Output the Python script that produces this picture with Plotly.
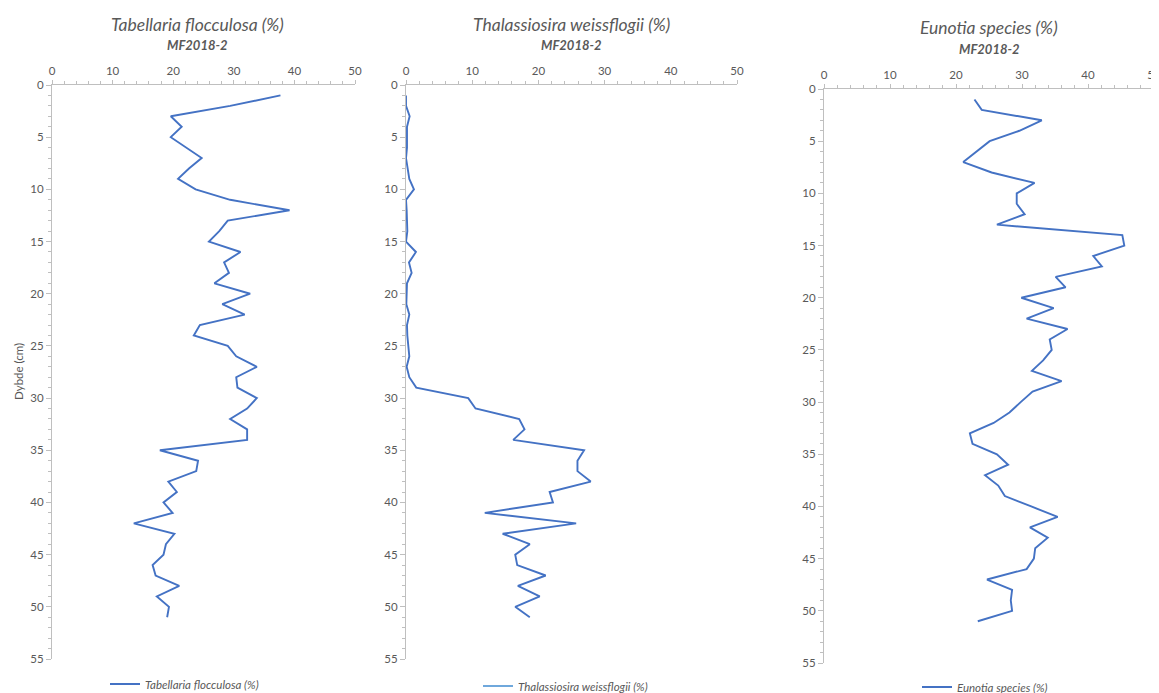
import plotly.graph_objects as go

depth = list(range(1, 52))

tabellaria = [37.7, 29.4, 19.6, 21.4, 19.6, 22.1, 24.7, 22.6, 20.8, 23.7,
              29.4, 39.2, 29.0, 27.6, 25.9, 31.1, 28.4, 29.2, 26.8, 32.7,
              28.1, 31.8, 24.4, 23.4, 29.0, 30.4, 33.8, 30.4, 30.6, 33.8,
              32.2, 29.4, 32.2, 32.2, 17.8, 24.1, 23.8, 19.2, 20.6, 18.4,
              19.9, 13.5, 20.2, 18.8, 18.4, 16.6, 17.1, 21.0, 17.3, 19.3,
              19.0]

thalassiosira = [0.0, 0.0, 0.55, 0.15, 0.15, 0.15, 0.0, 0.2, 0.5, 1.2,
                 0.0, 0.1, 0.1, 0.2, 0.0, 1.5, 0.45, 0.85, 0.15, 0.15,
                 0.05, 0.5, 0.15, 0.2, 0.35, 0.5, 0.1, 0.5, 1.55, 9.4,
                 10.5, 17.1, 17.9, 16.2, 26.9, 25.9, 25.9, 27.9, 21.7, 22.2,
                 11.9, 25.7, 14.6, 18.7, 16.5, 16.8, 21.1, 16.9, 20.2, 16.5,
                 18.7]

eunotia = [22.8, 23.9, 33.0, 29.6, 25.1, 23.1, 21.1, 25.4, 31.9, 29.2,
           29.2, 30.4, 26.2, 45.2, 45.5, 40.8, 42.1, 35.1, 36.6, 29.9,
           34.8, 30.7, 36.9, 34.2, 34.5, 33.2, 31.5, 36.0, 31.6, 29.8,
           28.1, 25.7, 22.1, 22.5, 26.2, 27.9, 24.4, 26.4, 27.4, 31.4,
           35.4, 31.2, 33.9, 32.0, 31.8, 30.7, 24.7, 28.5, 28.3, 28.5,
           23.3]

titles = ["Tabellaria flocculosa (%)", "Thalassiosira weissflogii (%)", "Eunotia species (%)"]
subtitle = "MF2018-2"
y_title = "Dybde (cm)"

# the page body has an 8px margin, so the figure is drawn at (8, 8)
OFF = 8
W, H = 1159 - OFF, 693 - OFF
LINE = "#4472C4"
LEGEND2_LINE = "#6FA8DC"
GRAY_TXT = "#595959"
AXIS_GRAY = "#BFBFBF"
FONT = "Lato"


def px(x):
    return (x - OFF) / W


def py(y):
    return 1 - (y - OFF) / H


# panel geometry in page pixels: (x0, x1, y_top, y_bottom)
panels = [(52, 355, 85, 659), (406, 737, 85, 659), (824, 1154, 89, 663)]

fig = go.Figure()

series = [tabellaria, thalassiosira, eunotia]
for i, (vals, name) in enumerate(zip(series, titles)):
    sfx = "" if i == 0 else str(i + 1)
    leg = "legend" if i == 0 else f"legend{i+1}"
    fig.add_trace(go.Scatter(
        x=vals, y=depth, mode="lines", name=name,
        line=dict(color=LINE, width=1.9),
        xaxis="x" + sfx, yaxis="y" + sfx, legend=leg,
        showlegend=(i != 1),
    ))
    if i == 1:
        fig.add_trace(go.Scatter(
            x=[None], y=[None], mode="lines", name=name,
            line=dict(color=LEGEND2_LINE, width=1.9),
            xaxis="x" + sfx, yaxis="y" + sfx, legend=leg, showlegend=True,
            hoverinfo="skip",
        ))

layout = dict(
    width=W, height=H, autosize=False,
    margin=dict(l=0, r=0, t=0, b=0, autoexpand=False),
    paper_bgcolor="white", plot_bgcolor="white",
    font=dict(family=FONT, color=GRAY_TXT, size=11),
)

annotations = []
for i, (x0, x1, yt, yb) in enumerate(panels):
    sfx = "" if i == 0 else str(i + 1)
    layout["xaxis" + sfx] = dict(
        domain=[px(x0), px(x1)], anchor="y" + sfx, side="top", range=[0, 50],
        tickmode="linear", tick0=0, dtick=10, automargin=False,
        ticklabeloverflow="allow",
        showgrid=False, zeroline=False,
        showline=True, linecolor=AXIS_GRAY, linewidth=1,
        ticks="outside", ticklen=4, tickcolor=AXIS_GRAY,
        minor=dict(dtick=2, ticks="outside", ticklen=3, tickcolor=AXIS_GRAY, showgrid=False),
        tickfont=dict(family=FONT, size=11.5, color=GRAY_TXT),
        fixedrange=True,
    )
    layout["yaxis" + sfx] = dict(
        domain=[py(yb), py(yt)], anchor="x" + sfx, range=[55, 0],
        tickmode="linear", tick0=0, dtick=5, automargin=False,
        showgrid=False, zeroline=False,
        showline=True, linecolor=AXIS_GRAY, linewidth=1,
        ticks="outside", ticklen=5, tickcolor=AXIS_GRAY,
        minor=dict(dtick=1, ticks="outside", ticklen=3, tickcolor=AXIS_GRAY, showgrid=False),
        tickfont=dict(family=FONT, size=11.5, color=GRAY_TXT),
        fixedrange=True,
    )
    cx = (x0 + x1) / 2 - (6 if i == 0 else 0)
    annotations.append(dict(
        text=titles[i], x=px(cx), y=py(yt - 61), xref="paper", yref="paper",
        xanchor="center", yanchor="middle", showarrow=False,
        font=dict(family=FONT, size=17.5, color=GRAY_TXT, style="italic"),
    ))
    annotations.append(dict(
        text=subtitle, x=px(cx), y=py(yt - 40), xref="paper", yref="paper",
        xanchor="center", yanchor="middle", showarrow=False,
        font=dict(family=FONT, size=13, color=GRAY_TXT, style="italic", weight="bold"),
    ))

annotations.append(dict(
    text=y_title, x=px(18), y=py(372), xref="paper", yref="paper",
    xanchor="center", yanchor="middle", showarrow=False, textangle=-90,
    font=dict(family=FONT, size=11.5, color=GRAY_TXT),
))
layout["annotations"] = annotations

leg_pos = [(105, 684), (478, 686), (917, 687)]
for i, (lx, ly) in enumerate(leg_pos):
    key = "legend" if i == 0 else f"legend{i+1}"
    layout[key] = dict(
        x=px(lx), y=py(ly), xref="paper", yref="paper",
        xanchor="left", yanchor="middle", orientation="h",
        bgcolor="rgba(0,0,0,0)", borderwidth=0,
        font=dict(family=FONT, size=11.5, color=GRAY_TXT, style="italic"),
        itemwidth=30,
    )

fig.update_layout(**layout)
fig.write_html("out.html")
